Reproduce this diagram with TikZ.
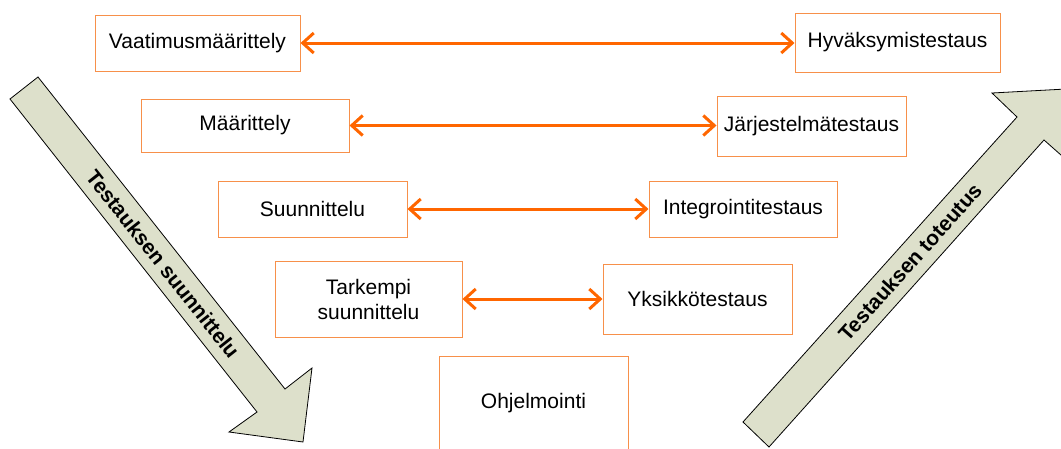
\documentclass[tikz,border=0pt]{standalone}
\usepackage{fontspec}
\setmainfont{Liberation Sans}
\usetikzlibrary{arrows.meta}
\definecolor{boxorange}{HTML}{F7904A}
\definecolor{linkorange}{HTML}{FF6600}
\definecolor{bigfill}{HTML}{DDE0CB}
\tikzset{
  phase/.style={draw=boxorange, line width=1pt, fill=white, inner sep=0pt,
    align=center, font=\fontsize{21}{25}\selectfont},
  link/.style={draw=linkorange, line width=3pt,
    {Straight Barb[length=11pt,width=20pt,line width=3pt]}-{Straight Barb[length=11pt,width=20pt,line width=3pt]}},
  bigarrow/.style={draw=black, line width=0.8pt, fill=bigfill},
  bigtext/.style={font=\fontsize{21}{25}\selectfont\bfseries, inner sep=0pt}
}
\begin{document}
\begin{tikzpicture}[x=1pt,y=-1pt]
\useasboundingbox (0,0) rectangle (1061,448);
\clip (0,0) rectangle (1061,448);
% big arrows
\draw[bigarrow] (10,99) -- (38,77) -- (285,389) -- (312,368) -- (303,442) -- (229,432) -- (257,412) -- cycle;
\node[bigtext, rotate=-51.6] (plan) at (163,264) {Testauksen suunnittelu};
\draw[bigarrow] (743,422) -- (1017,117) -- (992,93) -- (1066,89) -- (1070,163) -- (1044,140) -- (769,447) -- cycle;
\node[bigtext, rotate=48.1] (exec) at (910,262) {Testauksen toteutus};
% boxes
\node[phase, minimum width=205pt, minimum height=56pt] (vm) at (197.5,43) {Vaatimusmäärittely};
\node[phase, minimum width=205pt, minimum height=59pt] (hv) at (897.5,42.5) {Hyväksymistestaus};
\node[phase, minimum width=208pt, minimum height=53pt] (ma) at (245,125.5) {Määrittely};
\node[phase, minimum width=189pt, minimum height=60pt] (js) at (811.5,126) {Järjestelmätestaus};
\node[phase, minimum width=189pt, minimum height=56pt] (su) at (312.5,209) {Suunnittelu};
\node[phase, minimum width=188pt, minimum height=56pt] (it) at (743,209) {Integrointitestaus};
\node[phase, minimum width=187pt, minimum height=76pt] (ts) at (368.5,299) {Tarkempi\\suunnittelu};
\node[phase, minimum width=189pt, minimum height=70pt] (yk) at (697.5,299) {Yksikkötestaus};
\node[phase, minimum width=189pt, minimum height=94pt] (oh) at (533.5,403) {Ohjelmointi};
% links
\draw[link] (vm.east) -- (hv.west |- vm.east);
\draw[link] (ma.east) -- (js.west |- ma.east);
\draw[link] (su.east) -- (it.west |- su.east);
\draw[link] (ts.east) -- (yk.west |- ts.east);
\end{tikzpicture}
\end{document}
